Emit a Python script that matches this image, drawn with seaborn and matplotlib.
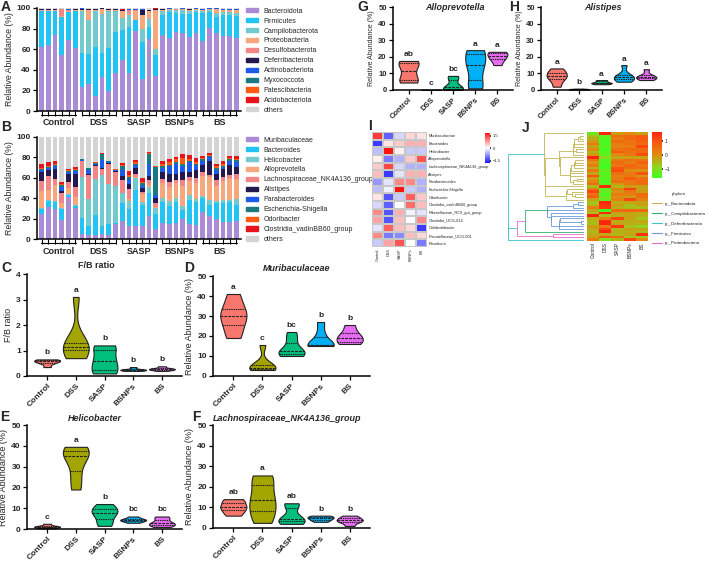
import numpy as np
import pandas as pd
import matplotlib
matplotlib.use("Agg")
import matplotlib.pyplot as plt
import seaborn as sns
from matplotlib.patches import Patch
from matplotlib.lines import Line2D
from matplotlib.colors import LinearSegmentedColormap

sns.set_theme(style="ticks")
plt.rcParams['font.family'] = ['Liberation Sans', 'DejaVu Sans']
plt.rcParams['font.weight'] = 'bold'
plt.rcParams['axes.linewidth'] = 1.0

groups = ["Control", "DSS", "SASP", "BSNPs", "BS"]
group_colors = ["#F8766D", "#A3A500", "#00BF7D", "#00B0F6", "#E76BF3"]

# ---- panel A: phylum level, 30 samples (6 per group)
phyla_names = ["Bacteroidota", "Firmicutes", "Campilobacterota", "Proteobacteria",
               "Desulfobacterota", "Deferribacterota", "Actinobacteriota",
               "Myxococcota", "Patescibacteria", "Acidobacteriota"]
phyla_colors = ["#A98BD6", "#22C4F5", "#72CACE", "#F6A77C", "#F28585", "#24184F",
                "#1E5BE8", "#1A7A80", "#FF5B12", "#E8141C"]
bacteroidota = [62, 64, 74, 54, 69, 61, 23, 26, 15, 33, 19, 37, 50, 37, 78, 31, 70, 34,
                74, 71, 77, 76, 72, 76, 68, 81, 76, 73, 73, 71]
firmicutes = [35, 33, 23, 37, 27, 36, 33, 29, 47, 23, 42, 40, 29, 45, 10, 36, 12, 20,
              19, 25, 18, 18, 22, 20, 27, 15, 15, 20, 20, 21]
campilobacterota = [0.5, 0.5, 0.5, 0.3, 0.5, 0.5, 41, 33, 35, 38, 36, 20, 11, 11, 0.5, 13, 7, 6,
                    4, 2, 3, 4, 3, 2, 2, 2, 4, 3, 3, 3]
proteobacteria = [0.5, 0.5, 0.5, 0.5, 1, 0.5, 1, 10, 1, 5, 1, 1, 7, 1, 9, 13, 8, 38,
                  1, 1, 0.5, 1, 1, 1, 1, 1, 4, 2, 2, 3]
desulfobacterota = [0.5, 0.5, 0.5, 7, 0.5, 0.5, 0.5, 0.5, 0.3, 0.5, 0.3, 0.3, 0.5, 4, 0.5, 0.5, 0.5, 0.5,
                    0.5, 0.3, 0.3, 0.3, 0.5, 0.3, 0.3, 0.3, 0.3, 0.3, 0.3, 0.3]
deferribacterota = [0.2, 0.2, 0.1, 0.2, 0.3, 0.2, 1, 0.5, 0.5, 0.5, 0.5, 0.5, 0.3, 0.5, 0.3, 5, 0.3, 0.5,
                    0.2, 0.2, 0.2, 0.2, 0.2, 0.2, 0.2, 0.2, 0.2, 0.2, 0.2, 0.2]
actinobacteriota = [0.3, 0.2, 0.2, 0.2, 0.8, 0.2, 0.3, 0.2, 0.2, 0.3, 0.2, 0.2, 0.5, 0.3, 0.3, 0.5, 0.3, 0.3,
                    0.5, 0.2, 0.2, 0.2, 0.2, 0.2, 0.2, 0.2, 0.2, 0.2, 0.2, 0.2]
myxococcota = [0.1] * 30
patescibacteria = [0.1] * 30
acidobacteriota = [0.05] * 30
phyla_vals = [bacteroidota, firmicutes, campilobacterota, proteobacteria, desulfobacterota,
              deferribacterota, actinobacteriota, myxococcota, patescibacteria, acidobacteriota]

# ---- panel B: genus level
genus_names = ["Muribaculaceae", "Bacteroides", "Helicobacter", "Alloprevotella",
               "Lachnospiraceae_NK4A136_group", "Alistipes", "Parabacteroides",
               "Escherichia-Shigella", "Odoribacter", "Clostridia_vadinBB60_group"]
genus_colors = ["#A98BD6", "#22C4F5", "#72CACE", "#F6A77C", "#F28585", "#24184F",
                "#1E5BE8", "#1A7A80", "#FF5B12", "#E8141C"]
muribaculaceae = [25, 31, 29, 19, 41, 30, 5, 4, 4, 5, 4, 15, 18, 13, 13, 13, 23, 10,
                  16, 15, 16, 20, 15, 14, 26, 23, 20, 17, 17, 18]
bacteroides = [4, 6, 7, 10, 2, 2, 16, 9, 20, 8, 11, 1, 17, 16, 35, 20, 22, 15,
               20, 17, 20, 8, 23, 22, 14, 10, 15, 18, 19, 15]
helicobacter = [1, 1, 1, 1, 1, 1, 40, 26, 35, 50, 39, 36, 10, 8, 12, 3, 6, 5,
                4, 5, 4, 4, 5, 3, 2, 5, 2, 3, 2, 6]
alloprevotella = [17, 10, 16, 5, 6, 8, 0, 0, 0, 0, 0, 0, 0.5, 2, 1, 8, 2, 1,
                  15, 14, 15, 20, 14, 16, 20, 23, 15, 19, 22, 20]
lachnospiraceae = [10, 14, 6, 10, 6, 10, 15, 24, 13, 6, 20, 14, 12, 10, 3, 2, 5, 4,
                   4, 5, 3, 6, 4, 5, 4, 2, 6, 4, 3, 5]
alistipes = [9, 6, 10, 2, 8, 13, 0.5, 0.3, 0.8, 0.5, 0.4, 0.6, 4, 5, 6, 4, 4, 5,
             7, 8, 6, 8, 5, 8, 7, 13, 6, 8, 10, 7]
parabacteroides = [2, 2, 3, 4, 2, 3, 1, 4, 1, 8, 1, 1, 6, 5, 3, 2, 12, 3,
                   4, 8, 10, 6, 9, 5, 3, 4, 4, 2, 3, 4]
escherichia = [1, 1, 1, 2, 1, 1, 0.5, 2, 1, 6, 1, 0.5, 4, 2, 1, 3, 9, 28,
               2, 1, 1, 2, 1, 1, 2, 1, 2, 1, 2, 2]
odoribacter = [1, 1, 1, 1, 1, 1, 0.2, 0.2, 0.2, 0.2, 0.2, 0.2, 1, 2, 1, 1, 1, 0.5,
               2, 2, 3, 5, 2, 1, 1, 1, 2, 2, 1, 1]
clostridia = [4, 3, 2, 2, 1, 2, 0.3, 0.3, 0.3, 0.3, 0.3, 0.3, 2, 4, 2, 4, 1, 0.5,
              2, 3, 2, 4, 4, 4, 2, 2, 2, 2, 2, 3]
genus_vals = [muribaculaceae, bacteroides, helicobacter, alloprevotella, lachnospiraceae,
              alistipes, parabacteroides, escherichia, odoribacter, clostridia]

# ---- violin panels (6 mice per group)
fb_ratio = [[0.35, 0.5, 0.55, 0.6, 0.65, 0.62], [0.7, 1.0, 1.05, 1.25, 1.3, 3.1],
            [0.1, 0.15, 0.5, 0.7, 1.15, 1.2], [0.2, 0.22, 0.24, 0.25, 0.26, 0.35],
            [0.2, 0.25, 0.26, 0.28, 0.3, 0.38]]
murib_v = [[19, 24, 30, 30, 35, 41], [3, 3.5, 4, 4.5, 6, 15.5], [10, 11, 12, 13, 18, 22],
           [15, 15.5, 15.5, 16, 21, 27], [16, 16.5, 19, 19.5, 22, 25.5]]
helico_v = [[0.3, 0.8, 1.0, 1.2, 1.5, 2.5], [19, 26, 34, 36, 38, 39.5], [1.5, 4, 7.5, 8, 10, 12],
            [3, 3.8, 4.2, 4.5, 5, 6], [1, 2, 2.5, 3, 5, 6]]
lachno_v = [[6, 8, 10, 10.5, 13, 14], [2.5, 7, 12, 15, 23, 25.5], [2, 3, 4, 5, 11, 12],
            [3, 3.8, 4.5, 5, 5.5, 6], [1, 3, 3.5, 4, 5, 6]]
allo_v = [[4.5, 5, 9, 14, 17, 17.5], [0.01, 0.02, 0.02, 0.03, 0.03, 0.04], [0, 0.5, 1, 2.5, 7, 8.5],
          [1, 3, 14, 16, 23.5, 24], [15, 18, 19.5, 21, 22.5, 23]]
alis_v = [[2, 6, 8, 9, 11, 13], [0.2, 0.3, 0.4, 0.5, 0.6, 0.8], [3.5, 4, 4.2, 4.5, 5.5, 6],
          [5, 6, 7.5, 8, 9, 15], [6, 7, 7.5, 8, 9, 12.5]]
fb_letters = ["b", "a", "b", "b", "b"]
murib_letters = ["a", "c", "bc", "b", "b"]
helico_letters = ["c", "a", "b", "bc", "bc"]
lachno_letters = ["ab", "a", "ab", "b", "b"]
allo_letters = ["ab", "c", "bc", "a", "a"]
alis_letters = ["a", "b", "a", "a", "a"]

# ---- panel I: z-scored heatmap of top genera
i_rows = ["Muribaculaceae", "Bacteroides", "Helicobacter", "Alloprevotella",
          "Lachnospiraceae_NK4A136_group", "Alistipes", "Parabacteroides",
          "Escherichia-Shigella", "Odoribacter", "Clostridia_vadinBB60_group",
          "Rikenellaceae_RC9_gut_group", "Clostridia_UCG-014", "Colidextribacter",
          "Prevotellaceae_UCG-001", "Roseburia"]
i_vals = [[1.5, -1.2, -0.3, 0.3, 0.2], [-1.5, 0.2, 0.4, 0.6, 0.6], [-0.5, 1.8, 0.1, -0.4, -0.4],
          [0.1, -1.0, -0.6, 0.4, 1.3], [0.4, 1.4, -0.3, -0.6, -0.6], [0.5, -1.5, -0.2, 0.6, 0.6],
          [-0.8, -0.2, 0.9, 0.9, -0.6], [-0.5, -0.1, 1.8, -0.4, -0.6], [0.2, -1.3, -0.4, 1.2, 0.4],
          [-0.3, -1.2, 0.0, 1.1, 0.5], [0.9, -1.3, 0.6, -0.1, -0.2], [0.7, -1.3, 0.5, 0.0, 0.9],
          [-0.2, 1.2, 0.5, 0.3, -1.5], [0.9, -1.0, -0.9, 0.5, 0.3], [-0.4, 0.7, 1.3, 0.0, -1.0]]

# ---- panel J: OTU heatmap with phylum tree
j_phylum = (["p__Bacteroidota"] * 26 + ["p__Firmicutes"] * 11 + ["p__Campilobacterota"]
            + ["p__Proteobacteria"] * 2 + ["p__Deferribacterota"])
j_vals = [[-1.2, 1.7, -0.2, 0.0, -0.3], [-0.6, -1.4, 0.5, 0.6, 0.9], [-0.4, -1.5, 0.3, 0.7, 0.9],
          [-0.2, -1.6, 0.6, 0.4, 0.8], [0.3, -1.6, 0.2, 0.5, 0.6], [-0.3, -1.4, 0.2, 0.3, 1.2],
          [0.0, -1.7, 0.5, 0.6, 0.6], [-0.5, -1.5, 0.9, 0.5, 0.6], [-0.2, -1.4, 0.1, 0.4, 1.1],
          [1.7, -0.9, -0.3, -0.2, -0.3], [0.4, -1.6, 0.3, 0.5, 0.4], [-0.1, -1.5, 0.6, 0.2, 0.8],
          [0.2, -1.7, 0.4, 0.7, 0.4], [-0.4, -1.8, 1.0, 0.6, 0.6], [0.3, -1.3, 1.1, 0.0, -0.1],
          [-0.3, -1.5, 0.5, 0.3, 1.0], [1.0, -1.4, 0.2, 0.3, -0.1], [-0.2, -1.5, 0.3, 0.9, 0.5],
          [0.1, -1.6, 0.5, 0.4, 0.6], [0.6, -1.4, -0.2, 0.4, 0.6], [-0.6, 1.6, -0.5, -0.2, -0.3],
          [0.3, -1.5, 0.2, 1.3, -0.3], [1.2, -1.3, -0.1, 0.4, -0.2], [0.5, -1.6, 0.3, 0.2, 0.6],
          [0.9, -1.2, 0.0, -0.2, 0.5], [-0.3, -1.3, 0.2, 1.2, 0.2],
          [-0.7, 1.7, -0.4, -0.3, -0.3], [-0.5, 1.5, -0.2, -0.6, -0.2], [0.2, 1.4, -0.4, -0.6, -0.6],
          [-0.3, -1.7, 0.6, 0.7, 0.7], [-0.6, 1.6, -0.3, -0.3, -0.4], [1.7, -0.6, -0.4, -0.3, -0.4],
          [-0.4, 0.2, 1.2, -0.3, -0.7], [-0.5, 1.6, -0.4, -0.4, -0.3], [-0.6, 1.7, -0.3, -0.4, -0.4],
          [-0.2, 0.3, 1.4, -0.6, -0.9], [-0.3, 1.2, -0.5, -0.2, -0.2],
          [-0.5, 1.8, -0.4, -0.4, -0.5],
          [-0.4, -0.3, -0.5, -0.3, 1.5], [-0.2, 1.0, 0.6, -0.7, -0.7],
          [0.3, -1.0, -0.5, 1.2, 0.0]]
phylum_order = ["p__Bacteroidota", "p__Campilobacterota", "p__Deferribacterota",
                "p__Firmicutes", "p__Proteobacteria"]
phylum_colors = {"p__Bacteroidota": "#C4B455", "p__Campilobacterota": "#2DB36B",
                 "p__Deferribacterota": "#35C4C8", "p__Firmicutes": "#6B9AD9",
                 "p__Proteobacteria": "#EE6ACD"}

W, H = 708, 561
fig = plt.figure(figsize=(W / 100, H / 100), dpi=100)


def box(x0, y0, x1, y1):
    return [x0 / W, 1 - y1 / H, (x1 - x0) / W, (y1 - y0) / H]


def style_axes(ax):
    sns.despine(ax=ax)
    ax.tick_params(labelsize=6, width=0.9, length=3, color="black", pad=1.5)
    for s in ["left", "bottom"]:
        ax.spines[s].set_color("black")
        ax.spines[s].set_linewidth(1.1)


def stacked(ax, names, vals, colors, ylabel_y):
    arr = np.array(vals, dtype=float)
    others = np.clip(100 - arr.sum(axis=0), 0, None)
    all_names = names + ["others"]
    all_vals = list(arr) + [others]
    rows = []
    for n, v in zip(all_names, all_vals):
        for i, x in enumerate(v):
            rows.append((i, n, x))
    df = pd.DataFrame(rows, columns=["sample", "taxon", "value"])
    pal = dict(zip(all_names, colors + ["#D4D4D4"]))
    sns.histplot(data=df, x="sample", weights="value", hue="taxon", hue_order=all_names[::-1],
                 multiple="stack", discrete=True, shrink=0.7, palette=pal, alpha=1,
                 linewidth=0, legend=False, ax=ax)
    ax.set_xlim(-0.7, 29.7)
    ax.set_ylim(0, 100)
    ax.set_yticks(range(0, 101, 20))
    ax.set_xticks(range(30))
    ax.set_xticklabels([])
    ax.set_xlabel("")
    ax.set_ylabel("Relative Abundance (%)", fontsize=6.3, labelpad=2)
    style_axes(ax)
    ax.tick_params(axis="x", length=3.5, width=0.8)
    tr = ax.get_xaxis_transform()
    for g, name in enumerate(groups):
        ax.plot([6 * g - 0.05, 6 * g + 5.05], [-0.036, -0.036], color="black", lw=0.8,
                transform=tr, clip_on=False)
        ax.text(6 * g + 2.5, ylabel_y, name, transform=tr, ha="center", va="center", fontsize=6.5)
    handles = [Patch(color=c, label=n) for n, c in zip(all_names, colors + ["#D4D4D4"])]
    ax.legend(handles=handles, loc="upper left", bbox_to_anchor=(1.01, 1.03), frameon=False,
              prop=dict(size=5, weight="normal"), handlelength=1.7, handleheight=0.55,
              labelspacing=0.42, borderaxespad=0, handletextpad=0.9)


def violin(ax, vals, letters, ymax, step, title, tx, ty, ylabel, italic=True):
    rows = [(g, v) for g, vs in zip(groups, vals) for v in vs]
    df = pd.DataFrame(rows, columns=["group", "value"])
    sns.violinplot(data=df, x="group", y="value", hue="group", order=groups, hue_order=groups,
                   palette=group_colors, cut=0, inner="quart", width=0.9, linewidth=0.8,
                   linecolor="#222222", bw_adjust=0.8, density_norm="width", saturation=1,
                   legend=False, ax=ax)
    ax.set_xlim(-0.7, 4.7)
    ax.set_ylim(0, ymax)
    ax.set_yticks(np.arange(0, ymax + step / 2, step))
    ax.set_xlabel("")
    ax.set_ylabel(ylabel, fontsize=6.5, labelpad=2)
    style_axes(ax)
    ax.set_xticks(range(5))
    ax.set_xticklabels(groups, rotation=45, ha="right", rotation_mode="anchor", fontsize=6)
    for i, (vs, L) in enumerate(zip(vals, letters)):
        ax.text(i, max(vs) + ymax * 0.03, L, ha="center", va="bottom", fontsize=6)
    ax.text(tx, ty, title, transform=ax.transAxes, ha="center", va="center", fontsize=6.5,
            style="italic" if italic else "normal")


# A and B
axA = fig.add_axes(box(37, 8, 241, 111))
stacked(axA, phyla_names, phyla_vals, phyla_colors, -0.11)
axB = fig.add_axes(box(37, 137, 241, 239))
stacked(axB, genus_names, genus_vals, genus_colors, -0.12)

# C - F
axC = fig.add_axes(box(27, 274, 182, 376))
violin(axC, fb_ratio, fb_letters, 4, 1, "F/B ratio", 0.45, 1.08, "F/B ratio", italic=False)
axD = fig.add_axes(box(213, 276, 370, 376))
violin(axD, murib_v, murib_letters, 50, 10, "Muribaculaceae", 0.53, 1.08, "Relative Abundance (%)")
axE = fig.add_axes(box(27, 425, 182, 529))
violin(axE, helico_v, helico_letters, 50, 10, "Helicobacter", 0.44, 1.06, "Relative Abundance (%)")
axF = fig.add_axes(box(213, 425, 370, 528))
violin(axF, lachno_v, lachno_letters, 50, 10, "Lachnospiraceae_NK4A136_group", 0.47, 1.06,
       "Relative Abundance (%)")

# G, H
axG = fig.add_axes(box(393, 7, 513, 90))
violin(axG, allo_v, allo_letters, 50, 10, "Alloprevotella", 0.52, 1.0, "Relative Abundance (%)")
axH = fig.add_axes(box(541, 7, 662, 90))
violin(axH, alis_v, alis_letters, 50, 10, "Alistipes", 0.51, 1.0, "Relative Abundance (%)")
for ax in (axG, axH):
    ax.tick_params(labelsize=5.5)
    ax.yaxis.label.set_size(5.0)

# I heatmap
bwr = LinearSegmentedColormap.from_list("bwr2", ["#1414FF", "#FFFFFF", "#FF1414"])
axI = fig.add_axes(box(372, 132, 427, 247))
caxI = fig.add_axes(box(485, 133, 490, 163))
sns.heatmap(pd.DataFrame(i_vals, index=i_rows, columns=groups), cmap=bwr, vmin=-1.8, vmax=1.8,
            ax=axI, cbar_ax=caxI, linewidths=0.3, linecolor="#C8C8C8",
            xticklabels=True, yticklabels=True, cbar_kws=dict(ticks=[-1.5, 0, 1.5]))
axI.yaxis.tick_right()
axI.set_yticks(np.arange(len(i_rows)) + 0.5)
axI.set_yticklabels(i_rows, rotation=0, fontsize=2.8, fontweight="normal")
axI.set_xticks(np.arange(5) + 0.5)
axI.set_xticklabels(groups, rotation=90, fontsize=2.8, fontweight="normal")
axI.tick_params(length=0, pad=1)
caxI.tick_params(labelsize=3, length=1, pad=1)
caxI.set_yticks([-1.5, 0, 1.5])
caxI.set_yticklabels(["\u22121.5", "0", "1.5"], fontweight="normal")

# J heatmap with tree (tree built by merging neighbouring rows, phyla kept apart)
gyr = LinearSegmentedColormap.from_list("gyr", ["#40FF20", "#90D41C", "#E08A10", "#F65E10", "#FF2410"])
X = np.array(j_vals)
n = len(X)
axT = fig.add_axes(box(507, 132, 584, 241))
clusters = [dict(m=[i], y=i + 0.5, h=0.0) for i in range(n)]
while len(clusters) > 1:
    best = None
    for k in range(len(clusters) - 1):
        a, b = clusters[k], clusters[k + 1]
        d = np.mean([np.linalg.norm(X[i] - X[j]) for i in a["m"] for j in b["m"]])
        if len({j_phylum[i] for i in a["m"] + b["m"]}) > 1:
            d += 4
        if best is None or d < best[0]:
            best = (d, k)
    d, k = best
    a, b = clusters[k], clusters[k + 1]
    h = max(d, a["h"], b["h"]) + 0.05
    members = a["m"] + b["m"]
    ph = {j_phylum[i] for i in members}
    col = phylum_colors[j_phylum[members[0]]] if len(ph) == 1 else phylum_colors[j_phylum[members[-1]]]
    axT.plot([a["h"], h, h, b["h"]], [a["y"], a["y"], b["y"], b["y"]], color=col, lw=0.6)
    clusters[k:k + 2] = [dict(m=members, y=(a["y"] + b["y"]) / 2, h=h)]
axT.set_xlim(clusters[0]["h"] * 1.01, 0)
axT.set_ylim(n, 0)
axT.axis("off")

axJ = fig.add_axes(box(587, 132, 648, 241))
caxJ = fig.add_axes(box(652, 132, 662, 178))
sns.heatmap(pd.DataFrame(X, columns=groups), cmap=gyr, vmin=-1.7, vmax=1.7, ax=axJ, cbar_ax=caxJ,
            linewidths=0, xticklabels=True, yticklabels=False,
            cbar_kws=dict(ticks=[-1, 0, 1]))
axJ.set_xticks(np.arange(5) + 0.5)
axJ.set_xticklabels(groups, rotation=90, fontsize=3.5, fontweight="normal")
axJ.tick_params(length=0, pad=1)
caxJ.tick_params(labelsize=3.5, length=1, pad=1)
caxJ.set_yticks([-1, 0, 1])
caxJ.set_yticklabels(["\u22121", "0", "1"], fontweight="normal")
phy_handles = [Line2D([0], [0], color=phylum_colors[p], lw=0.8) for p in phylum_order]
fig.legend(phy_handles, phylum_order, loc="upper left", bbox_to_anchor=(648 / W, 1 - 188 / H),
           frameon=False, prop=dict(size=3.2, weight="normal"), title="phylum",
           title_fontproperties=dict(size=3.2, weight="normal"), handlelength=2.2,
           labelspacing=1.3, handletextpad=0.6)

# panel letters
for L, x, y in [("A", 6, 7), ("B", 6, 127), ("C", 6, 268), ("D", 189, 268), ("E", 5, 417),
                ("F", 196, 417), ("G", 363, 7), ("H", 514, 7), ("I", 370, 126), ("J", 526, 128)]:
    fig.text(x / W, 1 - y / H, L, ha="center", va="center", fontsize=10, fontweight="bold")

fig.savefig("out.png", dpi=100)
